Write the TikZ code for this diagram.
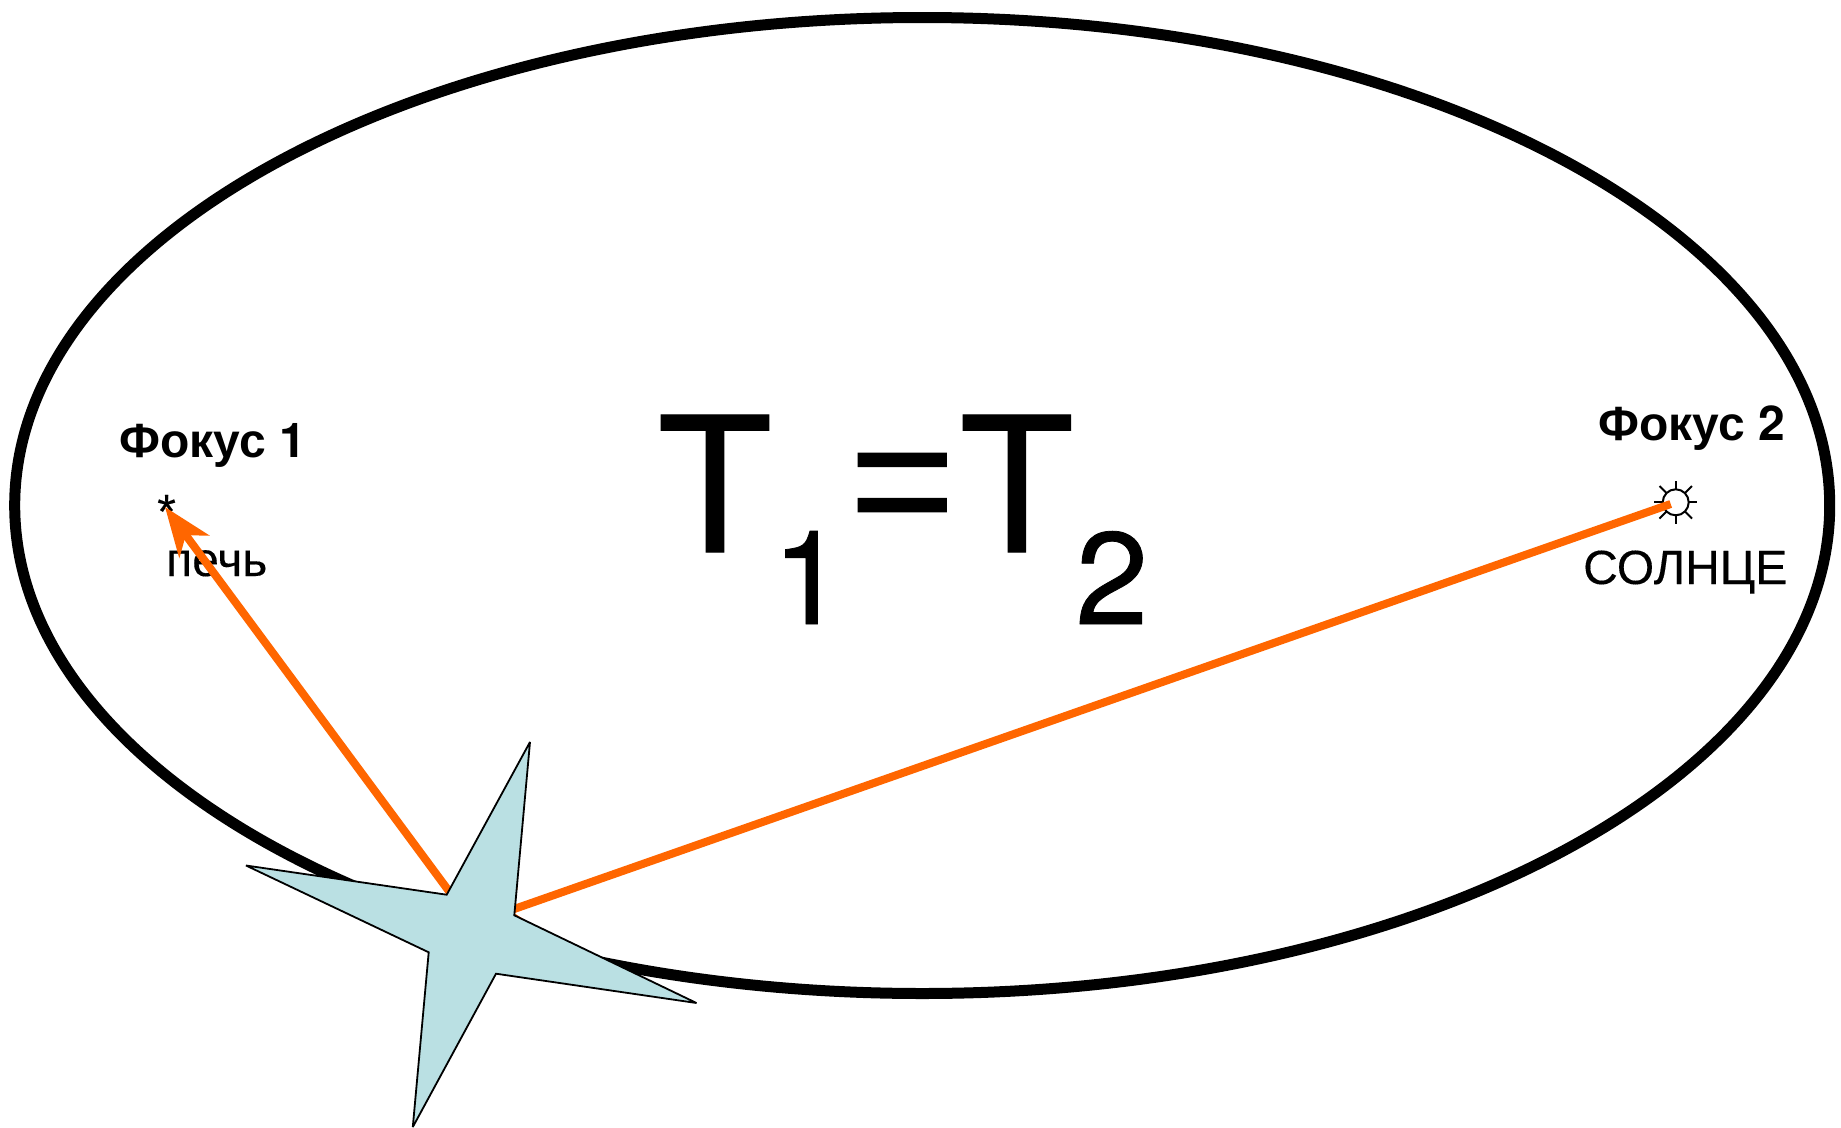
\documentclass[tikz,border=0pt]{standalone}
\usepackage{fontspec}
\setmainfont{Liberation Sans}
\newfontfamily\heros{TeX Gyre Heros}
\newfontfamily\herosthick{TeX Gyre Heros}[FakeBold=0.6]
\newfontfamily\libthick{Liberation Sans}[FakeBold=0.25]
\newfontfamily\eqthick{Liberation Sans}[FakeBold=0.8]
\usetikzlibrary{arrows.meta,calc}
\definecolor{orbitorange}{HTML}{FF6600}
\definecolor{starfill}{HTML}{BAE0E3}
\newcommand{\fs}[1]{\fontsize{#1pt}{#1pt}\selectfont}
\tikzset{
  orbit/.style={draw=black,line width=11pt},
  radius line/.style={draw=orbitorange,line width=8pt},
  body/.style={inner sep=0pt,anchor=base west,text=black},
  small label/.style={body,font=\fs{48}\libthick},
  bold label/.style={body,font=\fs{48}\bfseries},
  sun ray/.style={draw=black,line width=2pt},
  planet/.style={draw=black,fill=starfill,line width=1.8pt,miter limit=4}
}
\begin{document}
\begin{tikzpicture}[x=1pt,y=-1pt]
\useasboundingbox (0,0) rectangle (1841,1127);
\fill[white] (0,0) rectangle (1841,1127);
\draw[orbit] (922.2,505.5) ellipse [x radius=907.5,y radius=488];

\node[bold label] (f1) at (119,457) {Фокус {\heros 1}};
\node[bold label] (f2) at (1598,440) {Фокус {\heros 2}};
\node[small label] (star) at (157,528) {*};
\node[small label] (pech) at (166,576) {печь};
\node[small label] (sol) at (1583,584) {СОЛНЦЕ};
\node[body] (eq) at (657,552) {\herosthick\fs{188}T\raisebox{-72pt}{\fs{131}1}\hspace{4.5pt}\raisebox{10pt}{\eqthick\fs{181}=}\hspace{4pt}T\hspace{1.5pt}\raisebox{-72pt}{\fs{131}2}};

\node[circle,draw=black,fill=white,line width=2pt,minimum size=26pt,inner sep=0pt] (sun) at (1675.7,502.3) {};
\foreach \a in {0,90,180,270}
  \draw[sun ray] ($(sun)+(\a:13pt)$) -- ($(sun)+(\a:21.5pt)$);
\foreach \a in {45,135,225,315}
  \draw[sun ray] ($(sun)+(\a:13pt)$) -- ($(sun)+(\a:23pt)$);

\coordinate (focusA) at (165,507);
\coordinate (focusB) at (1670.7,504);
\coordinate (s1) at (530,742);
\coordinate (s2) at (514.3,915.3);
\coordinate (s3) at (696.5,1003);
\coordinate (s4) at (496,973.7);
\coordinate (s5) at (412.8,1127);
\coordinate (s6) at (428.7,952.3);
\coordinate (s7) at (246,865.5);
\coordinate (s8) at (446.7,894.7);
\coordinate (tailA) at (454,898);
\coordinate (tailB) at (477,922);

\draw[radius line,-{Stealth[length=49pt,width=37pt,inset=14pt,sep=0pt]}] (tailA) -- (focusA);
\draw[radius line,{Stealth[length=49pt,width=37pt,inset=14pt,sep=0pt]}-] (tailB) -- (focusB);
\draw[planet] (s1) -- (s2) -- (s3) -- (s4) -- (s5) -- (s6) -- (s7) -- (s8) -- cycle;
\end{tikzpicture}
\end{document}
